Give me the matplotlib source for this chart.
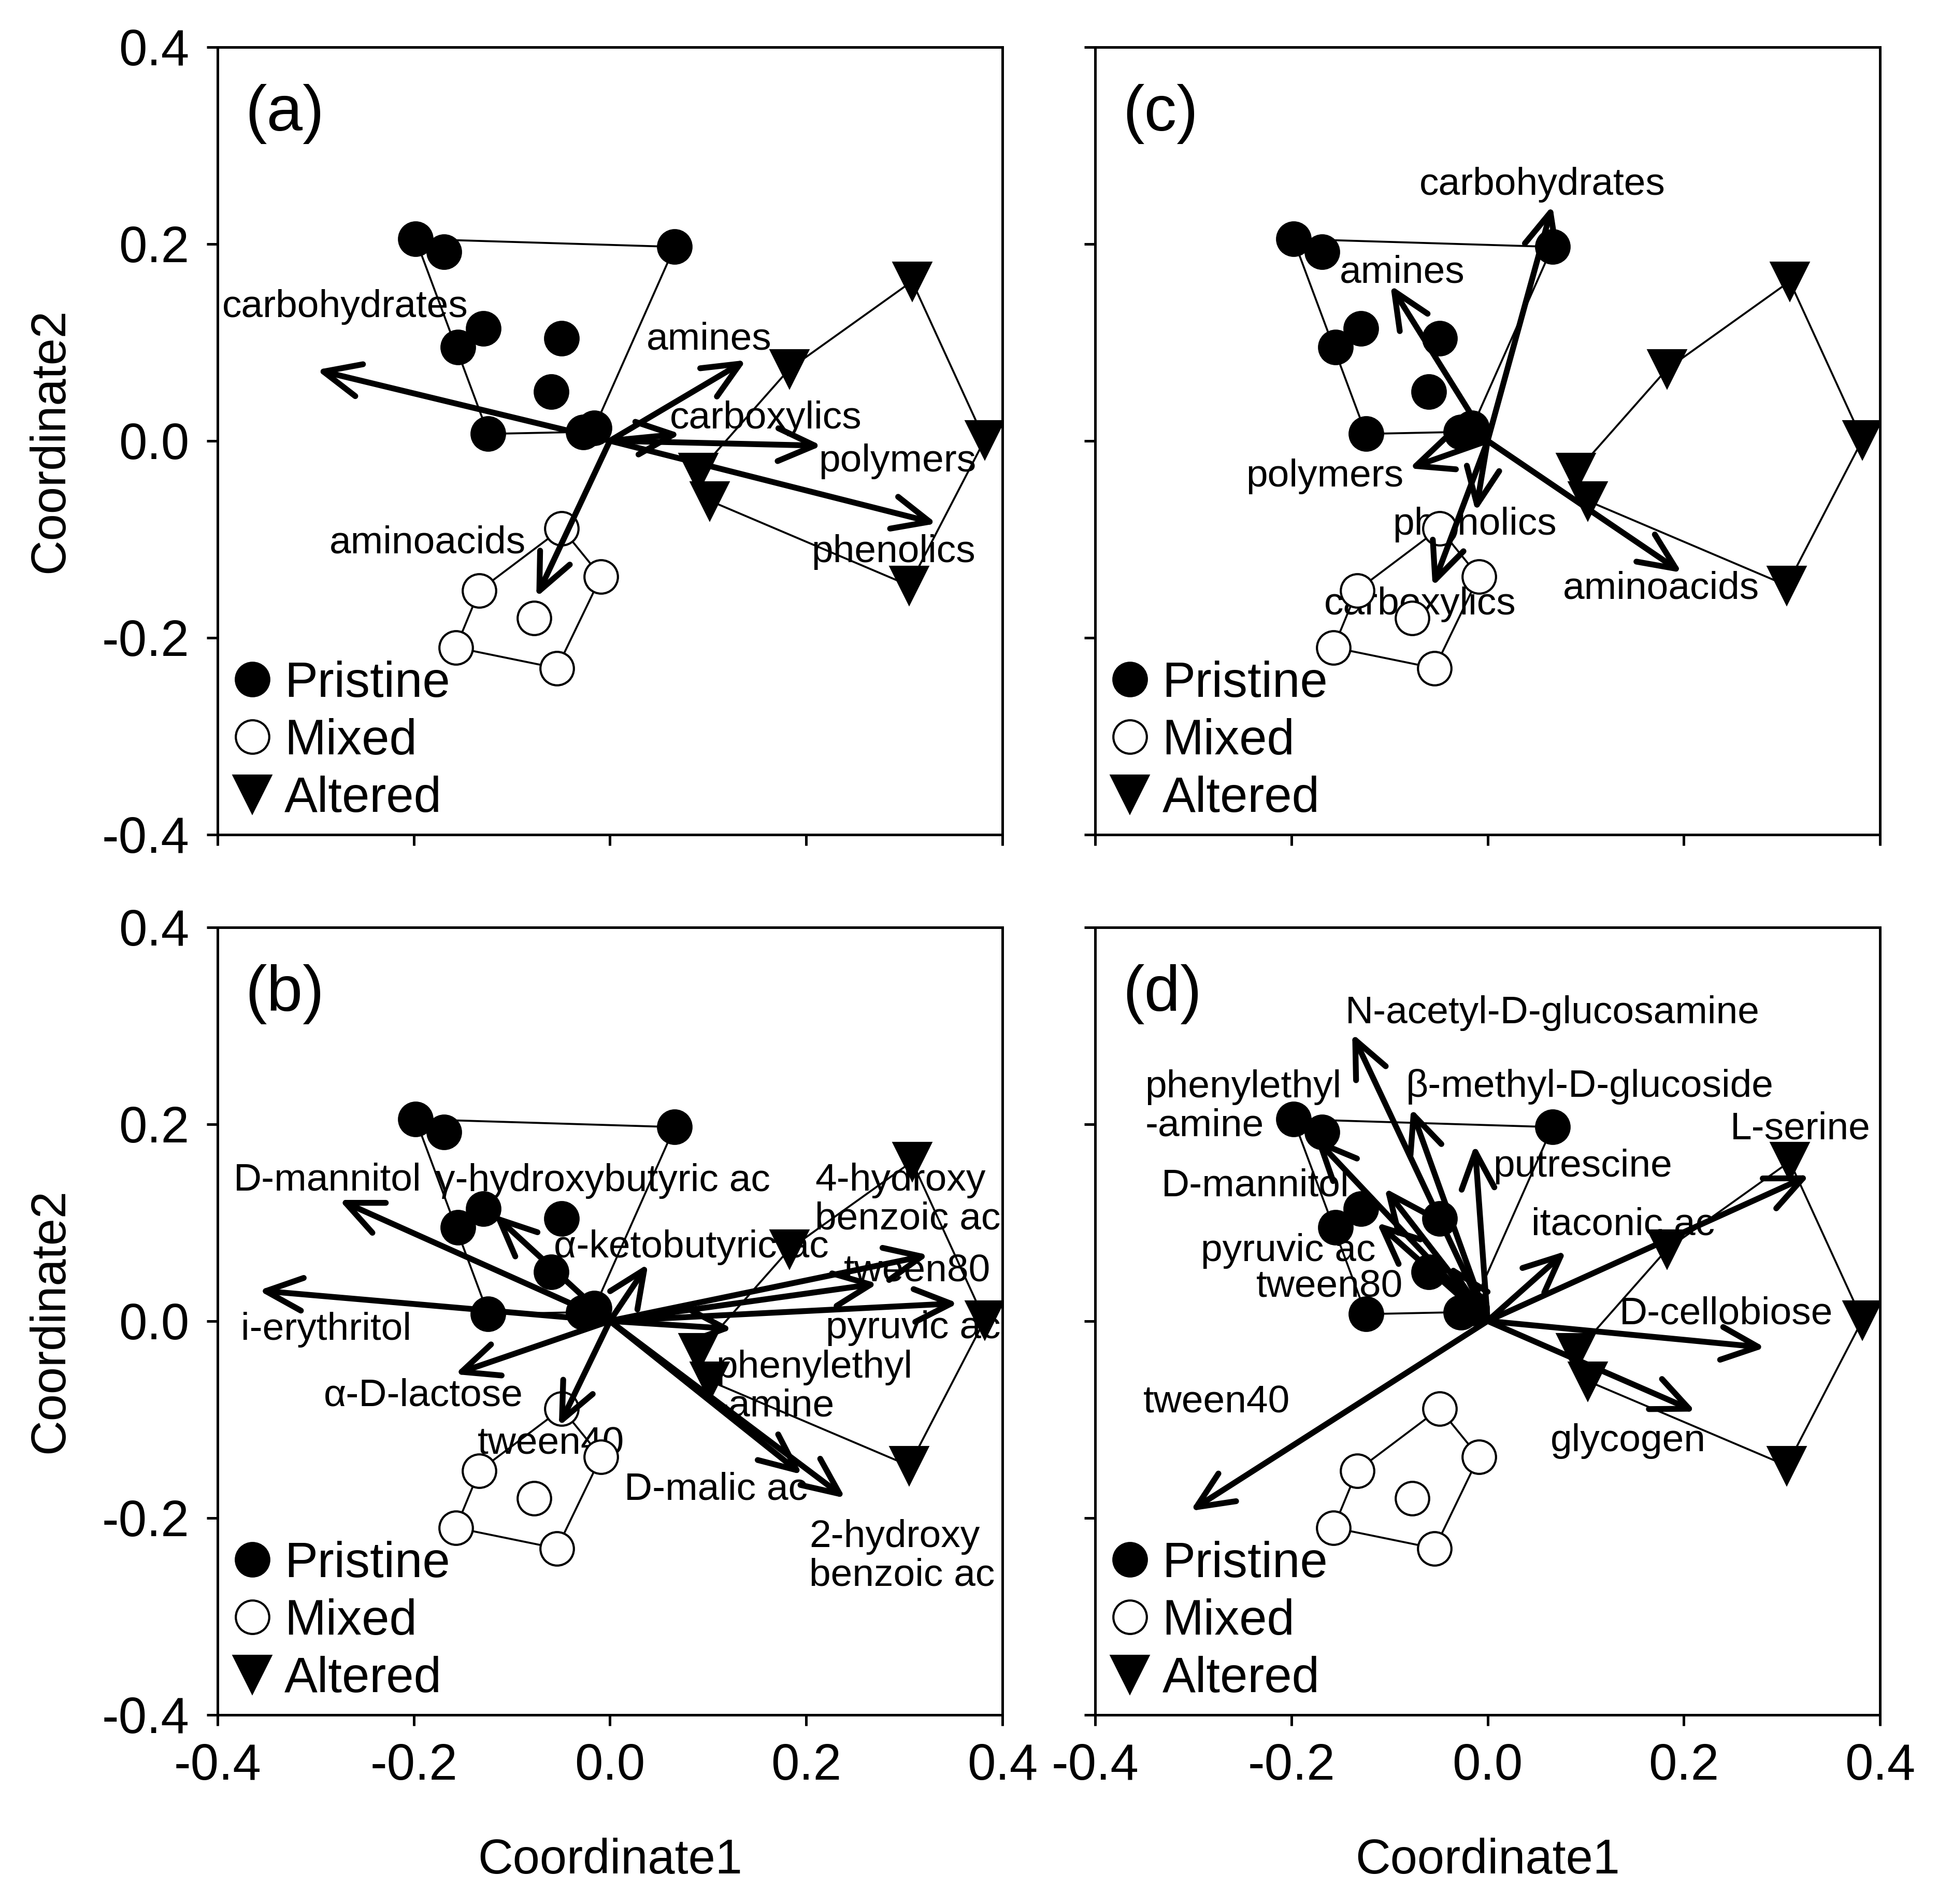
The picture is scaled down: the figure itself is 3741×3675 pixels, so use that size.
import matplotlib
matplotlib.use('Agg')
import matplotlib.pyplot as plt
from matplotlib.patches import FancyArrowPatch, ArrowStyle
from matplotlib.lines import Line2D
import numpy as np

plt.rcParams['font.family'] = ['Liberation Sans', 'DejaVu Sans']
plt.rcParams['axes.unicode_minus'] = False

# ---------------- sample scores (NMDS) ----------------
pristine_x = [-0.198, -0.169, 0.066, -0.155, -0.129, -0.049, -0.060, -0.124, -0.027, -0.016]
pristine_y = [0.205, 0.192, 0.197, 0.095, 0.114, 0.104, 0.050, 0.007, 0.009, 0.013]
mixed_x = [-0.049, -0.133, -0.009, -0.077, -0.157, -0.054]
mixed_y = [-0.089, -0.152, -0.138, -0.180, -0.210, -0.231]
altered_x = [0.308, 0.183, 0.382, 0.090, 0.102, 0.305]
altered_y = [0.162, 0.073, 0.001, -0.032, -0.061, -0.147]

# ---------------- fitted vectors ----------------
names_a = ['carbohydrates', 'amines', 'carboxylics', 'polymers', 'phenolics', 'aminoacids']
vx_a = [-0.299, 0.139, 0.072, 0.216, 0.333, -0.075]
vy_a = [0.072, 0.082, 0.007, -0.005, -0.084, -0.159]

names_b = ['D-mannitol', 'γ-hydroxybutyric ac', 'i-erythritol', 'α-D-lactose', 'tween40',
           'α-ketobutyric ac', '4-hydroxy\nbenzoic ac', 'tween80', 'pyruvic ac',
           'phenylethyl\n-amine', 'D-malic ac', '2-hydroxy\nbenzoic ac']
vx_b = [-0.276, -0.118, -0.358, -0.158, -0.052, 0.039, 0.325, 0.273, 0.355, 0.125, 0.196, 0.240]
vy_b = [0.123, 0.108, 0.031, -0.054, -0.107, 0.058, 0.067, 0.038, 0.018, -0.008, -0.156, -0.180]

names_c = ['carbohydrates', 'amines', 'polymers', 'phenolics', 'carboxylics', 'aminoacids']
vx_c = [0.066, -0.099, -0.080, -0.012, -0.056, 0.198]
vy_c = [0.239, 0.158, -0.028, -0.072, -0.148, -0.134]

names_d = ['N-acetyl-D-glucosamine', 'phenylethyl\n-amine', 'β-methyl-D-glucoside', 'putrescine',
           'D-mannitol', 'pyruvic ac', 'tween80', 'itaconic ac', 'L-serine', 'D-cellobiose',
           'glycogen', 'tween40']
vx_d = [-0.138, -0.176, -0.078, -0.013, -0.105, -0.113, -0.039, 0.080, 0.328, 0.283, 0.212, -0.303]
vy_d = [0.292, 0.186, 0.216, 0.179, 0.135, 0.100, 0.057, 0.071, 0.148, -0.027, -0.092, -0.193]

ticks = [-0.4, -0.2, 0.0, 0.2, 0.4]
group_names = ['Pristine', 'Mixed', 'Altered']

# ---------------- label placement (layout) ----------------
# (x, y, horizontal alignment)
place_a = [(-0.270, 0.136, 'center'), (0.101, 0.103, 'center'), (0.159, 0.023, 'center'),
           (0.293, -0.021, 'center'), (0.289, -0.113, 'center'), (-0.186, -0.104, 'center')]
place_b = [(-0.288, 0.143, 'center'), (-0.007, 0.142, 'center'), (-0.289, -0.009, 'center'),
           (-0.190, -0.076, 'center'), (-0.060, -0.125, 'center'), (0.083, 0.075, 'center'),
           (0.209, 0.123, 'left'), (0.313, 0.051, 'center'), (0.309, -0.007, 'center'),
           (0.108, -0.067, 'left'), (0.108, -0.171, 'center'), (0.203, -0.239, 'left')]
place_c = [(0.056, 0.260, 'center'), (-0.087, 0.171, 'center'), (-0.166, -0.036, 'center'),
           (-0.013, -0.085, 'center'), (-0.069, -0.166, 'center'), (0.177, -0.150, 'center')]
place_d = [(0.066, 0.313, 'center'), (-0.349, 0.218, 'left'), (0.104, 0.238, 'center'),
           (0.097, 0.157, 'center'), (-0.237, 0.137, 'center'), (-0.203, 0.071, 'center'),
           (-0.161, 0.035, 'center'), (0.138, 0.098, 'center'), (0.319, 0.195, 'center'),
           (0.243, 0.007, 'center'), (0.143, -0.122, 'center'), (-0.276, -0.083, 'center')]


def convex_hull(xs, ys):
    pts = sorted(set(zip(xs, ys)))

    def cross(o, a, b):
        return (a[0] - o[0]) * (b[1] - o[1]) - (a[1] - o[1]) * (b[0] - o[0])
    lower = []
    for p in pts:
        while len(lower) >= 2 and cross(lower[-2], lower[-1], p) <= 0:
            lower.pop()
        lower.append(p)
    upper = []
    for p in reversed(pts):
        while len(upper) >= 2 and cross(upper[-2], upper[-1], p) <= 0:
            upper.pop()
        upper.append(p)
    hull = lower[:-1] + upper[:-1]
    hull.append(hull[0])
    return [p[0] for p in hull], [p[1] for p in hull]


MS_C = 15.5
MS_T = 17.5
FS_LAB = 18
FS_TICK = 23.5
FS_AXL = 22.5
FS_LEG = 23

fig = plt.figure(figsize=(3741 / 300, 3675 / 300), dpi=300)

W, H = 0.4050, 0.4136
pos = {
    'a': [0.1122, 0.5617, W, H],
    'b': [0.1122, 0.0994, W, H],
    'c': [0.5651, 0.5617, W, H],
    'd': [0.5651, 0.0994, W, H],
}

panels = {
    'a': (names_a, vx_a, vy_a, place_a),
    'b': (names_b, vx_b, vy_b, place_b),
    'c': (names_c, vx_c, vy_c, place_c),
    'd': (names_d, vx_d, vy_d, place_d),
}

astyle = ArrowStyle('->', head_length=0.85, head_width=0.38)

for key in ['a', 'b', 'c', 'd']:
    ax = fig.add_axes(pos[key])
    names, vx, vy, place = panels[key]
    ax.set_xlim(-0.4, 0.4)
    ax.set_ylim(-0.4, 0.4)
    ax.set_xticks(ticks)
    ax.set_yticks(ticks)
    for s in ax.spines.values():
        s.set_linewidth(1.2)
    ax.tick_params(direction='out', length=5, width=1.2, labelsize=FS_TICK,
                   top=False, right=False)
    ax.tick_params(axis='y', pad=8)
    ax.tick_params(axis='x', pad=8)
    ax.xaxis.set_major_formatter(matplotlib.ticker.FormatStrFormatter('%.1f'))
    ax.yaxis.set_major_formatter(matplotlib.ticker.FormatStrFormatter('%.1f'))
    if key in ('a', 'c'):
        ax.set_xticklabels([])
    else:
        ax.set_xlabel('Coordinate1', fontsize=FS_AXL, labelpad=22)
    if key in ('c', 'd'):
        ax.set_yticklabels([])
    else:
        ax.set_ylabel('Coordinate2', fontsize=FS_AXL, labelpad=13)

    # hulls
    for xs, ys in [(pristine_x, pristine_y), (mixed_x, mixed_y), (altered_x, altered_y)]:
        hx, hy = convex_hull(xs, ys)
        ax.plot(hx, hy, color='black', lw=0.9, zorder=2)

    # points
    ax.plot(pristine_x, pristine_y, ls='none', marker='o', ms=MS_C, mfc='black',
            mec='black', mew=1.0, zorder=3)
    ax.plot(mixed_x, mixed_y, ls='none', marker='o', ms=MS_C, mfc='white',
            mec='black', mew=1.0, zorder=3)
    ax.plot(altered_x, altered_y, ls='none', marker='v', ms=MS_T, mfc='black',
            mec='black', mew=1.0, zorder=3)

    # vectors
    for n, x, y, (tx, ty, ha) in zip(names, vx, vy, place):
        arr = FancyArrowPatch((0, 0), (x, y), arrowstyle=astyle, mutation_scale=20,
                              lw=2.7, color='black', shrinkA=0, shrinkB=0, zorder=4)
        ax.add_patch(arr)
        ax.text(tx, ty, n, fontsize=FS_LAB, ha=ha, va='center', multialignment=ha,
                linespacing=1.1, zorder=1)

    ax.text(0.035, 0.915, '(%s)' % key, transform=ax.transAxes, fontsize=30,
            ha='left', va='center')

    handles = [
        Line2D([], [], ls='none', marker='o', ms=MS_C, mfc='black', mec='black'),
        Line2D([], [], ls='none', marker='o', ms=MS_C, mfc='white', mec='black'),
        Line2D([], [], ls='none', marker='v', ms=MS_T, mfc='black', mec='black'),
    ]
    ax.legend(handles, group_names, loc='lower left', bbox_to_anchor=(0.0, 0.0),
              frameon=False, fontsize=FS_LEG, handlelength=0.9, handletextpad=0.2,
              labelspacing=0.22, borderpad=0.25, borderaxespad=0.0)

fig.savefig('out.png', dpi=300)
